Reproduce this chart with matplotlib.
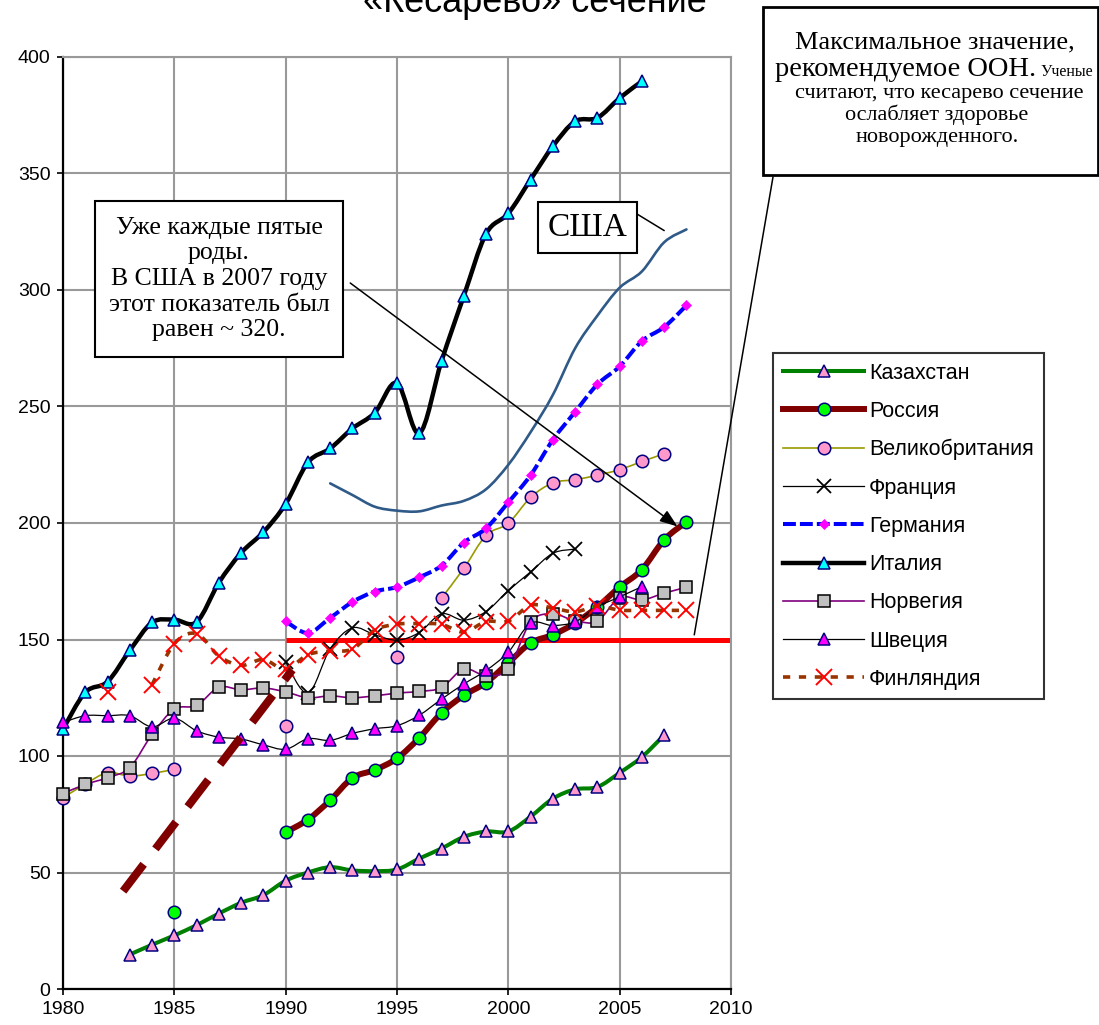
import numpy as np
import matplotlib
matplotlib.use('Agg')
import matplotlib.pyplot as plt
from matplotlib.path import Path
from matplotlib.patches import PathPatch, Rectangle
from matplotlib.lines import Line2D

W, H = 1099, 1025
nan = np.nan

# ---------------- data ----------------
years_kz = list(range(1983, 2008))
kazakhstan = [14.8, 19, 23, 27.4, 32.4, 37, 40.3, 46.5, 50, 52.3,
              50.9, 50.6, 51.3, 56, 60.3, 65.3, 67.6, 67.6, 74, 81.7,
              85.7, 86.7, 92.8, 99.6, 109]

years_ru = list(range(1985, 2009))
russia = [33, nan, nan, nan, nan, 67.3, 72.7, 81, 90.6, 94,
          99, 107.8, 118.5, 126, 131.5, 140, 148.5, 152, 157, 164,
          172.5, 180, 192.8, 200.5]

years_uk = list(range(1980, 2008))
uk = [82, 88, 92.8, 91.4, 92.5, 94.3, nan, nan, nan, nan,
      112.9, nan, nan, nan, nan, 142.5, nan, 167.8, 180.5, 194.7,
      199.9, 211, 217.2, 218.6, 220.5, 222.9, 226.4, 229.7]

years_fr = list(range(1990, 2004))
france = [140.3, 127, 146, 155, 152, 149.7, 153, 161, 158.3, 162,
          171, 179, 187, 188.8]

years_de = list(range(1990, 2009))
germany = [157.8, 152.8, 159.3, 166.1, 170.6, 172.5, 176.7, 181.7, 191.6, 197.7,
           208.9, 220.5, 235.7, 247.7, 259.5, 267.2, 278.1, 284.1, 293.4]

years_it = list(range(1980, 2007))
italy = [111.5, 127.3, 131.9, 145.3, 157.3, 158.5, 157.5, 174.4, 187.2, 196.1,
         208.2, 226, 232, 240.6, 247.3, 260.1, 238.5, 269.5, 297.4, 324.1,
         332.9, 347.4, 361.7, 372.4, 373.9, 382.4, 389.6]

years_no = list(range(1980, 2009))
norway = [83.9, 87.8, 90.7, 95, 109.3, 120.1, 121.7, 129.5, 128.4, 129.2,
          127.5, 125, 125.8, 125, 125.8, 127, 127.7, 129.4, 137.3, 134.5,
          137.5, 157.5, 161, 158, 157.9, 168, 167, 169.9, 172.4]

years_se = list(range(1980, 2007))
sweden = [114.4, 117.3, 117.3, 117.3, 112.5, 116.2, 110.8, 108.1, 107.3, 104.8,
          102.9, 107.4, 106.7, 109.7, 111.7, 113, 117.5, 124.4, 130.9, 136.7,
          144.6, 156.9, 156, 157.6, 164, 168.3, 172.7]

years_fi = list(range(1982, 2009))
finland = [127.3, nan, 130.6, 148.2, 152.5, 142.9, 138.9, 141.4, 137.2, 143.5,
           145, 145.9, 154, 156.6, 156.8, 156.5, 153.2, 157.7, 157.9, 164.7,
           163.5, 161.9, 164.3, 162.6, 162.5, 162.5, 162.5]

years_us = list(range(1992, 2009))
usa = [217, 212, 207, 205.3, 205, 207.5, 209.5, 214.5, 225, 239,
       255, 275, 289, 301, 308, 320.5, 326]

un_years = [1990, 2010]
un_max = [150, 150]

trend_years = [1982.7, 1990.3]
trend_vals = [42, 137]

labels = ['Казахстан', 'Россия', 'Великобритания', 'Франция', 'Германия',
          'Италия', 'Норвегия', 'Швеция', 'Финляндия']

xticks = [1980, 1985, 1990, 1995, 2000, 2005, 2010]
yticks = [0, 50, 100, 150, 200, 250, 300, 350, 400]


# ---------------- helpers ----------------
def smooth_path(x, y):
    x = np.asarray(x, float)
    y = np.asarray(y, float)
    ok = ~np.isnan(y)
    n = len(x)
    verts, codes = [], []
    i = 0
    while i < n:
        if not ok[i]:
            i += 1
            continue
        j = i
        while j + 1 < n and ok[j + 1]:
            j += 1
        px, py = x[i:j + 1], y[i:j + 1]
        m = len(px)
        if m >= 2:
            verts.append((px[0], py[0]))
            codes.append(Path.MOVETO)
            for k in range(m - 1):
                p0 = np.array([px[max(k - 1, 0)], py[max(k - 1, 0)]])
                p1 = np.array([px[k], py[k]])
                p2 = np.array([px[k + 1], py[k + 1]])
                p3 = np.array([px[min(k + 2, m - 1)], py[min(k + 2, m - 1)]])
                c1 = p1 + (p2 - p0) / 6.0
                c2 = p2 - (p3 - p1) / 6.0
                verts += [tuple(c1), tuple(c2), tuple(p2)]
                codes += [Path.CURVE4] * 3
        i = j + 1
    if not verts:
        return None
    return Path(verts, codes)


def fx(px):
    return px / W


def fy(py):
    return 1 - py / H


SANS = ['Liberation Sans', 'DejaVu Sans']
SERIF = ['Liberation Serif', 'DejaVu Serif']

fig = plt.figure(figsize=(W / 100, H / 100), dpi=100)
ax = fig.add_axes([fx(63), fy(989), (731 - 63) / W, (989 - 57) / H])
ax.set_xlim(1980, 2010)
ax.set_ylim(0, 400)
ax.set_xticks(xticks)
ax.set_yticks(yticks)
ax.grid(True, color='#999999', lw=1.5)
ax.set_axisbelow(True)
for s in ['top', 'right']:
    ax.spines[s].set_color('#999999')
    ax.spines[s].set_linewidth(1.5)
for s in ['left', 'bottom']:
    ax.spines[s].set_color('black')
    ax.spines[s].set_linewidth(1.6)
ax.tick_params(direction='out', length=4, width=1.2, colors='black',
               labelsize=14, pad=5)
for t in ax.get_xticklabels() + ax.get_yticklabels():
    t.set_family(SANS)

# UN max line (behind)
ax.plot(un_years, un_max, color='#FF0000', lw=3.6, zorder=2, solid_capstyle='butt')

series = [
    # x, y, color, lw, dash, marker, ms, mfc, mec, mew
    (years_kz, kazakhstan, '#008000', 2.9, None, '^', 9, '#FF99CC', '#000080', 1.1),
    (years_ru, russia, '#800000', 4.3, None, 'o', 9, '#00FF00', '#000080', 1.1),
    (years_uk, uk, '#999900', 1.2, None, 'o', 9, '#FF99CC', '#000080', 1.1),
    (years_fr, france, 'black', 0.9, None, 'x', 9.5, 'none', 'black', 1.3),
    (years_de, germany, '#0000FF', 2.9, (0, (3.2, 1.0)), 'D', 4.6, '#FF00FF', '#FF00FF', 0.5),
    (years_it, italy, 'black', 3.2, None, '^', 9, '#00FFFF', '#000080', 1.1),
    (years_no, norway, '#800080', 1.2, None, 's', 9, '#C0C0C0', 'black', 1.1),
    (years_se, sweden, 'black', 0.9, None, '^', 9, '#FF00FF', '#000080', 1.1),
    (years_fi, finland, '#993300', 2.6, (0, (2.0, 2.4)), 'x', 11, 'none', '#FF0000', 1.4),
]

handles = []
for idx, (xs, ys, col, lw, dash, mk, ms, mfc, mec, mew) in enumerate(series):
    z = 3 + idx
    p = smooth_path(xs, ys)
    ls = '-' if dash is None else dash
    if p is not None:
        patch = PathPatch(p, fill=False, edgecolor=col, lw=lw, linestyle=ls,
                          capstyle='round' if dash is None else 'butt',
                          joinstyle='round', zorder=z)
        ax.add_patch(patch)
    ax.plot(xs, ys, linestyle='none', marker=mk, ms=ms, mfc=mfc, mec=mec,
            mew=mew, zorder=z + 0.5, clip_on=False)
    handles.append(Line2D([], [], color=col, lw=lw, linestyle=ls, marker=mk,
                          ms=ms, mfc=mfc, mec=mec, mew=mew))

# USA
pu = smooth_path(years_us, usa)
ax.add_patch(PathPatch(pu, fill=False, edgecolor='#2F5A88', lw=1.9,
                       capstyle='round', zorder=13))

# dashed dark-red trend
ax.plot(trend_years, trend_vals, color='#800000', lw=5.8,
        linestyle=(0, (4.2, 2.4)), solid_capstyle='butt', zorder=12)

# ---------------- title ----------------
fig.text(fx(535), fy(12), '«Кесарево» сечение', ha='center', va='baseline',
         fontsize=26, family=SANS)

# ---------------- legend ----------------
leg = fig.legend(handles, labels, loc='upper left',
                 bbox_to_anchor=(fx(773), fy(697), 271 / W, 344 / H),
                 mode='expand', borderaxespad=0,
                 prop={'family': SANS, 'size': 15.5},
                 handlelength=3.8, handletextpad=0.2, borderpad=0.45,
                 labelspacing=0.8, fancybox=False, frameon=True, numpoints=1)
leg.get_frame().set_edgecolor('black')
leg.get_frame().set_linewidth(1.5)


# ---------------- boxes ----------------
def box(x0, y0, x1, y1, lw=1.5):
    r = Rectangle((fx(x0), fy(y1)), (x1 - x0) / W, (y1 - y0) / H,
                  transform=fig.transFigure, facecolor='white',
                  edgecolor='black', lw=lw, zorder=20)
    fig.add_artist(r)


box(95, 201, 343, 357)
fig.text(fx(219), fy(279), 'Уже каждые пятые\nроды.\nВ США в 2007 году\nэтот показатель был\nравен ~ 320.',
         ha='center', va='center', fontsize=18.5, family=SERIF, linespacing=1.22,
         zorder=21)

box(538, 202, 637, 253)
fig.text(fx(588), fy(228), 'США', ha='center', va='center', fontsize=24,
         family=SERIF, zorder=21)

box(763, 7, 1098, 175, lw=2)
fig.text(fx(935), fy(48), 'Максимальное значение,', ha='center', va='baseline',
         fontsize=19, family=SERIF, zorder=21)
fig.text(fx(1036), fy(76), 'рекомендуемое ООН.', ha='right', va='baseline',
         fontsize=20.5, family=SERIF, zorder=21)
fig.text(fx(1040), fy(76), 'Ученые', ha='left', va='baseline',
         fontsize=11.5, family=SERIF, zorder=21)
fig.text(fx(939), fy(98), 'считают, что кесарево сечение', ha='center', va='baseline',
         fontsize=16, family=SERIF, zorder=21)
fig.text(fx(937), fy(120), 'ослабляет здоровье', ha='center', va='baseline',
         fontsize=16, family=SERIF, zorder=21)
fig.text(fx(937), fy(142), 'новорожденного.', ha='center', va='baseline',
         fontsize=16, family=SERIF, zorder=21)

# connectors
ax.annotate('', xy=(2008.35, 152), xycoords='data',
            xytext=(fx(773), fy(177)), textcoords='figure fraction',
            arrowprops=dict(arrowstyle='-', color='black', lw=1.1,
                            shrinkA=0, shrinkB=0),
            annotation_clip=False, zorder=15)
ax.annotate('', xy=(2007.6, 198.5), xycoords='data',
            xytext=(1992.9, 303), textcoords='data',
            arrowprops=dict(arrowstyle='-|>,head_length=0.9,head_width=0.33',
                            mutation_scale=12, color='black', lw=1.1,
                            shrinkA=0, shrinkB=0),
            annotation_clip=False, zorder=15)
ax.annotate('', xy=(2007.0, 325.5), xycoords='data',
            xytext=(fx(637), fy(214)), textcoords='figure fraction',
            arrowprops=dict(arrowstyle='-', color='black', lw=1.1,
                            shrinkA=0, shrinkB=0),
            annotation_clip=False, zorder=15)

fig.savefig('out.png', dpi=100)
